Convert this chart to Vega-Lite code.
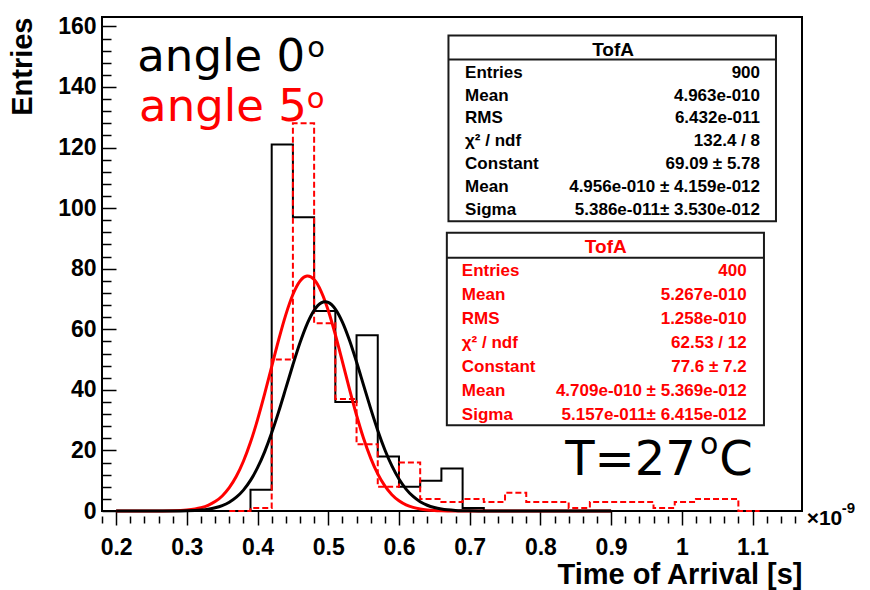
{
  "$schema": "https://vega.github.io/schema/vega-lite/v6.json",
  "width": 700,
  "height": 494,
  "autosize": {"type": "none"},
  "padding": {"left": 102, "top": 17, "right": 68, "bottom": 79},
  "background": "white",
  "config": {
    "view": {"stroke": "black", "strokeWidth": 2},
    "axis": {
      "grid": false,
      "domain": false,
      "labelFont": "Liberation Sans",
      "labelFontWeight": "bold",
      "labelFontSize": 23,
      "labelColor": "black",
      "titleFont": "Liberation Sans",
      "titleFontWeight": "bold",
      "titleFontSize": 29,
      "titleColor": "black",
      "tickColor": "black",
      "tickWidth": 1.5
    },
    "text": {"font": "Liberation Sans", "fontWeight": "bold"}
  },
  "datasets": {
    "tof_angle0": [
      {"t": 0.36, "n": 0}, {"t": 0.39, "n": 7}, {"t": 0.42, "n": 121}, {"t": 0.45, "n": 97},
      {"t": 0.48, "n": 66}, {"t": 0.51, "n": 36}, {"t": 0.54, "n": 58}, {"t": 0.57, "n": 18},
      {"t": 0.60, "n": 8}, {"t": 0.63, "n": 10}, {"t": 0.66, "n": 14}, {"t": 0.69, "n": 1},
      {"t": 0.72, "n": 0}, {"t": 0.75, "n": 0}
    ],
    "tof_angle5": [
      {"t": 0.36, "n": 0}, {"t": 0.39, "n": 1}, {"t": 0.42, "n": 50}, {"t": 0.45, "n": 128},
      {"t": 0.48, "n": 62}, {"t": 0.51, "n": 37}, {"t": 0.54, "n": 22}, {"t": 0.57, "n": 8},
      {"t": 0.60, "n": 16}, {"t": 0.63, "n": 4}, {"t": 0.66, "n": 3}, {"t": 0.69, "n": 4},
      {"t": 0.72, "n": 3}, {"t": 0.75, "n": 6}, {"t": 0.78, "n": 3}, {"t": 0.81, "n": 3},
      {"t": 0.84, "n": 1}, {"t": 0.87, "n": 3}, {"t": 0.90, "n": 3}, {"t": 0.93, "n": 3},
      {"t": 0.96, "n": 1}, {"t": 0.99, "n": 3}, {"t": 1.02, "n": 4}, {"t": 1.05, "n": 4},
      {"t": 1.08, "n": 0}, {"t": 1.11, "n": 0}
    ],
    "gaus_fits": [
      {"t": 0.20, "angle0": 0, "angle5": 0},
      {"t": 0.25, "angle0": 0.002, "angle5": 0.008},
      {"t": 0.28, "angle0": 0.023, "angle5": 0.082},
      {"t": 0.30, "angle0": 0.094, "angle5": 0.320},
      {"t": 0.32, "angle0": 0.340, "angle5": 1.073},
      {"t": 0.33, "angle0": 0.612, "angle5": 1.857},
      {"t": 0.34, "angle0": 1.065, "angle5": 3.097},
      {"t": 0.35, "angle0": 1.788, "angle5": 4.97},
      {"t": 0.36, "angle0": 2.905, "angle5": 7.685},
      {"t": 0.37, "angle0": 4.556, "angle5": 11.45},
      {"t": 0.38, "angle0": 6.903, "angle5": 16.41},
      {"t": 0.39, "angle0": 10.11, "angle5": 22.67},
      {"t": 0.40, "angle0": 14.30, "angle5": 30.16},
      {"t": 0.41, "angle0": 19.54, "angle5": 38.64},
      {"t": 0.42, "angle0": 25.80, "angle5": 47.68},
      {"t": 0.43, "angle0": 32.90, "angle5": 56.66},
      {"t": 0.44, "angle0": 40.55, "angle5": 64.85},
      {"t": 0.45, "angle0": 48.28, "angle5": 71.48},
      {"t": 0.46, "angle0": 55.53, "angle5": 75.89},
      {"t": 0.47, "angle0": 61.71, "angle5": 77.59},
      {"t": 0.4709, "angle0": 62.19, "angle5": 77.6},
      {"t": 0.48, "angle0": 66.25, "angle5": 76.40},
      {"t": 0.49, "angle0": 68.72, "angle5": 72.45},
      {"t": 0.4956, "angle0": 69.09, "angle5": 69.19},
      {"t": 0.50, "angle0": 68.86, "angle5": 66.18},
      {"t": 0.51, "angle0": 66.66, "angle5": 58.22},
      {"t": 0.52, "angle0": 62.35, "angle5": 49.32},
      {"t": 0.53, "angle0": 56.34, "angle5": 40.24},
      {"t": 0.54, "angle0": 49.19, "angle5": 31.62},
      {"t": 0.55, "angle0": 41.48, "angle5": 23.93},
      {"t": 0.56, "angle0": 33.80, "angle5": 17.45},
      {"t": 0.57, "angle0": 26.61, "angle5": 12.24},
      {"t": 0.58, "angle0": 20.24, "angle5": 8.28},
      {"t": 0.59, "angle0": 14.88, "angle5": 5.39},
      {"t": 0.60, "angle0": 10.56, "angle5": 3.38},
      {"t": 0.61, "angle0": 7.24, "angle5": 2.04},
      {"t": 0.62, "angle0": 4.80, "angle5": 1.188},
      {"t": 0.63, "angle0": 3.07, "angle5": 0.665},
      {"t": 0.64, "angle0": 1.90, "angle5": 0.359},
      {"t": 0.65, "angle0": 1.135, "angle5": 0.186},
      {"t": 0.66, "angle0": 0.655, "angle5": 0.093},
      {"t": 0.68, "angle0": 0.197, "angle5": 0.02},
      {"t": 0.70, "angle0": 0.052, "angle5": 0.004},
      {"t": 0.72, "angle0": 0.012, "angle5": 0.001},
      {"t": 0.80, "angle0": 0, "angle5": 0},
      {"t": 0.90, "angle0": 0, "angle5": 0}
    ],
    "stats_angle0": [
      {"line": 0, "key": "TofA", "value": ""},
      {"line": 1, "key": "Entries", "value": "900"},
      {"line": 2, "key": "Mean", "value": "4.963e-010"},
      {"line": 3, "key": "RMS", "value": "6.432e-011"},
      {"line": 4, "key": "χ² / ndf", "value": "132.4 / 8"},
      {"line": 5, "key": "Constant", "value": "69.09 ± 5.78"},
      {"line": 6, "key": "Mean", "value": "4.956e-010 ± 4.159e-012"},
      {"line": 7, "key": "Sigma", "value": "5.386e-011± 3.530e-012"}
    ],
    "stats_angle5": [
      {"line": 0, "key": "TofA", "value": ""},
      {"line": 1, "key": "Entries", "value": "400"},
      {"line": 2, "key": "Mean", "value": "5.267e-010"},
      {"line": 3, "key": "RMS", "value": "1.258e-010"},
      {"line": 4, "key": "χ² / ndf", "value": "62.53 / 12"},
      {"line": 5, "key": "Constant", "value": "77.6 ± 7.2"},
      {"line": 6, "key": "Mean", "value": "4.709e-010 ± 5.369e-012"},
      {"line": 7, "key": "Sigma", "value": "5.157e-011± 6.415e-012"}
    ]
  },
  "layer": [
    {
      "resolve": {"axis": {"x": "independent", "y": "independent"}},
      "layer": [
        {
          "data": {"name": "tof_angle0"},
          "mark": {"type": "line", "interpolate": "step-after", "color": "black", "strokeWidth": 2},
          "encoding": {
            "x": {"field": "t", "type": "quantitative",
                  "scale": {"domain": [0.18, 1.17], "nice": false, "zero": false},
                  "axis": {"orient": "bottom", "values": [0.2, 0.3, 0.4, 0.5, 0.6, 0.7, 0.8, 0.9, 1, 1.1],
                           "format": "~g", "tickSize": 14, "labelPadding": 11,
                           "title": "Time of Arrival [s]", "titleAnchor": "end", "titlePadding": 1}},
            "y": {"field": "n", "type": "quantitative",
                  "scale": {"domain": [0, 163.1], "nice": false, "zero": false},
                  "axis": {"orient": "left", "values": [0, 20, 40, 60, 80, 100, 120, 140, 160],
                           "ticks": false, "labelPadding": 6,
                           "title": "Entries", "titleAnchor": "end", "titlePadding": 20}}
          }
        },
        {
          "data": {"name": "tof_angle5"},
          "mark": {"type": "line", "interpolate": "step-after", "color": "#ff0000", "strokeWidth": 2, "strokeDash": [6, 3]},
          "encoding": {
            "x": {"field": "t", "type": "quantitative",
                  "scale": {"domain": [0.18, 1.17], "nice": false, "zero": false},
                  "axis": {"orient": "bottom", "offset": 5, "tickSize": 7, "labels": false, "title": null,
                           "values": [0.18, 0.22, 0.24, 0.26, 0.28, 0.32, 0.34, 0.36, 0.38, 0.42, 0.44, 0.46, 0.48,
                                      0.52, 0.54, 0.56, 0.58, 0.62, 0.64, 0.66, 0.68, 0.72, 0.74, 0.76, 0.78,
                                      0.82, 0.84, 0.86, 0.88, 0.92, 0.94, 0.96, 0.98, 1.02, 1.04, 1.06, 1.08,
                                      1.12, 1.14, 1.16]}},
            "y": {"field": "n", "type": "quantitative",
                  "scale": {"domain": [0, 163.1], "nice": false, "zero": false},
                  "axis": {"orient": "right", "offset": -700, "tickSize": 14, "labels": false, "title": null,
                           "values": [0, 20, 40, 60, 80, 100, 120, 140, 160]}}
          }
        },
        {
          "data": {"name": "gaus_fits"},
          "mark": {"type": "line", "interpolate": "monotone", "color": "#ff0000", "strokeWidth": 3},
          "encoding": {
            "x": {"field": "t", "type": "quantitative",
                  "scale": {"domain": [0.18, 1.17], "nice": false, "zero": false}, "axis": null},
            "y": {"field": "angle5", "type": "quantitative",
                  "scale": {"domain": [0, 163.1], "nice": false, "zero": false},
                  "axis": {"orient": "right", "offset": -700, "tickSize": 9, "labels": false, "title": null,
                           "values": [4, 8, 12, 16, 24, 28, 32, 36, 44, 48, 52, 56, 64, 68, 72, 76, 84, 88, 92, 96,
                                      104, 108, 112, 116, 124, 128, 132, 136, 144, 148, 152, 156]}}
          }
        },
        {
          "data": {"name": "gaus_fits"},
          "mark": {"type": "line", "interpolate": "monotone", "color": "black", "strokeWidth": 3},
          "encoding": {
            "x": {"field": "t", "type": "quantitative",
                  "scale": {"domain": [0.18, 1.17], "nice": false, "zero": false}, "axis": null},
            "y": {"field": "angle0", "type": "quantitative",
                  "scale": {"domain": [0, 163.1], "nice": false, "zero": false}, "axis": null}
          }
        },
        {
          "data": {"values": [{"caption": "angle 0"}]},
          "mark": {"type": "text", "align": "left", "baseline": "alphabetic", "font": "DejaVu Sans", "fontWeight": "normal", "fontSize": 45, "color": "black"},
          "encoding": {
            "x": {"datum": 0.2299, "type": "quantitative", "scale": {"domain": [0.18, 1.17], "nice": false, "zero": false}, "axis": null},
            "y": {"datum": 145.2, "type": "quantitative", "scale": {"domain": [0, 163.1], "nice": false, "zero": false}, "axis": null},
            "text": {"field": "caption"}
          }
        },
        {
          "data": {"values": [{"caption": "o"}]},
          "mark": {"type": "text", "align": "left", "baseline": "alphabetic", "font": "DejaVu Sans", "fontWeight": "normal", "fontSize": 29, "color": "black"},
          "encoding": {
            "x": {"datum": 0.4702, "type": "quantitative", "scale": {"domain": [0.18, 1.17], "nice": false, "zero": false}, "axis": null},
            "y": {"datum": 149.8, "type": "quantitative", "scale": {"domain": [0, 163.1], "nice": false, "zero": false}, "axis": null},
            "text": {"field": "caption"}
          }
        },
        {
          "data": {"values": [{"caption": "angle 5"}]},
          "mark": {"type": "text", "align": "left", "baseline": "alphabetic", "font": "DejaVu Sans", "fontWeight": "normal", "fontSize": 45, "color": "#ff0000"},
          "encoding": {
            "x": {"datum": 0.2325, "type": "quantitative", "scale": {"domain": [0.18, 1.17], "nice": false, "zero": false}, "axis": null},
            "y": {"datum": 128.6, "type": "quantitative", "scale": {"domain": [0, 163.1], "nice": false, "zero": false}, "axis": null},
            "text": {"field": "caption"}
          }
        },
        {
          "data": {"values": [{"caption": "o"}]},
          "mark": {"type": "text", "align": "left", "baseline": "alphabetic", "font": "DejaVu Sans", "fontWeight": "normal", "fontSize": 29, "color": "#ff0000"},
          "encoding": {
            "x": {"datum": 0.4695, "type": "quantitative", "scale": {"domain": [0.18, 1.17], "nice": false, "zero": false}, "axis": null},
            "y": {"datum": 132.9, "type": "quantitative", "scale": {"domain": [0, 163.1], "nice": false, "zero": false}, "axis": null},
            "text": {"field": "caption"}
          }
        },
        {
          "data": {"values": [{"caption": "T=27"}]},
          "mark": {"type": "text", "align": "left", "baseline": "alphabetic", "font": "DejaVu Sans", "fontWeight": "normal", "fontSize": 48, "color": "black"},
          "encoding": {
            "x": {"datum": 0.835, "type": "quantitative", "scale": {"domain": [0.18, 1.17], "nice": false, "zero": false}, "axis": null},
            "y": {"datum": 12.05, "type": "quantitative", "scale": {"domain": [0, 163.1], "nice": false, "zero": false}, "axis": null},
            "text": {"field": "caption"}
          }
        },
        {
          "data": {"values": [{"caption": "o"}]},
          "mark": {"type": "text", "align": "left", "baseline": "alphabetic", "font": "DejaVu Sans", "fontWeight": "normal", "fontSize": 30, "color": "black"},
          "encoding": {
            "x": {"datum": 1.0259, "type": "quantitative", "scale": {"domain": [0.18, 1.17], "nice": false, "zero": false}, "axis": null},
            "y": {"datum": 18.66, "type": "quantitative", "scale": {"domain": [0, 163.1], "nice": false, "zero": false}, "axis": null},
            "text": {"field": "caption"}
          }
        },
        {
          "data": {"values": [{"caption": "C"}]},
          "mark": {"type": "text", "align": "left", "baseline": "alphabetic", "font": "DejaVu Sans", "fontWeight": "normal", "fontSize": 48, "color": "black"},
          "encoding": {
            "x": {"datum": 1.0528, "type": "quantitative", "scale": {"domain": [0.18, 1.17], "nice": false, "zero": false}, "axis": null},
            "y": {"datum": 12.05, "type": "quantitative", "scale": {"domain": [0, 163.1], "nice": false, "zero": false}, "axis": null},
            "text": {"field": "caption"}
          }
        },
        {
          "data": {"values": [{"caption": "×10"}]},
          "mark": {"type": "text", "align": "left", "baseline": "alphabetic", "fontSize": 21, "color": "black"},
          "encoding": {
            "x": {"datum": 1.1766, "type": "quantitative", "scale": {"domain": [0.18, 1.17], "nice": false, "zero": false}, "axis": null},
            "y": {"datum": -4.46, "type": "quantitative", "scale": {"domain": [0, 163.1], "nice": false, "zero": false}, "axis": null},
            "text": {"field": "caption"}
          }
        },
        {
          "data": {"values": [{"caption": "-9"}]},
          "mark": {"type": "text", "align": "left", "baseline": "alphabetic", "fontSize": 15, "color": "black"},
          "encoding": {
            "x": {"datum": 1.2261, "type": "quantitative", "scale": {"domain": [0.18, 1.17], "nice": false, "zero": false}, "axis": null},
            "y": {"datum": -0.6, "type": "quantitative", "scale": {"domain": [0, 163.1], "nice": false, "zero": false}, "axis": null},
            "text": {"field": "caption"}
          }
        }
      ]
    },
    {
      "data": {"name": "stats_angle0"},
      "layer": [
        {
          "transform": [{"filter": "datum.line == 0"}],
          "mark": {"type": "rect", "fill": "white", "stroke": "#1a1a1a", "strokeWidth": 2},
          "encoding": {
            "x": {"datum": 0.67, "type": "quantitative", "scale": {"domain": [0.18, 1.17], "nice": false, "zero": false}, "axis": null},
            "x2": {"datum": 1.1332},
            "y": {"datum": -0.64, "type": "quantitative", "scale": {"domain": [20.22, -1.447], "nice": false, "zero": false}, "axis": null},
            "y2": {"datum": 7.51}
          }
        },
        {
          "transform": [{"filter": "datum.line == 0"}],
          "mark": {"type": "rule", "color": "#1a1a1a", "strokeWidth": 2},
          "encoding": {
            "x": {"datum": 0.67, "type": "quantitative", "scale": {"domain": [0.18, 1.17], "nice": false, "zero": false}, "axis": null},
            "x2": {"datum": 1.1332},
            "y": {"datum": 0.42, "type": "quantitative", "scale": {"domain": [20.22, -1.447], "nice": false, "zero": false}, "axis": null}
          }
        },
        {
          "transform": [{"filter": "datum.line == 0"}],
          "mark": {"type": "text", "align": "center", "baseline": "middle", "fontSize": 19, "color": "black"},
          "encoding": {
            "x": {"datum": 0.9028, "type": "quantitative", "scale": {"domain": [0.18, 1.17], "nice": false, "zero": false}, "axis": null},
            "y": {"field": "line", "type": "quantitative", "scale": {"domain": [20.22, -1.447], "nice": false, "zero": false}, "axis": null},
            "text": {"field": "key"}
          }
        },
        {
          "transform": [{"filter": "datum.line > 0"}],
          "mark": {"type": "text", "align": "left", "baseline": "middle", "fontSize": 17, "color": "black"},
          "encoding": {
            "x": {"datum": 0.6935, "type": "quantitative", "scale": {"domain": [0.18, 1.17], "nice": false, "zero": false}, "axis": null},
            "y": {"field": "line", "type": "quantitative", "scale": {"domain": [20.22, -1.447], "nice": false, "zero": false}, "axis": null},
            "text": {"field": "key"}
          }
        },
        {
          "transform": [{"filter": "datum.line > 0"}],
          "mark": {"type": "text", "align": "right", "baseline": "middle", "fontSize": 17, "color": "black"},
          "encoding": {
            "x": {"datum": 1.1106, "type": "quantitative", "scale": {"domain": [0.18, 1.17], "nice": false, "zero": false}, "axis": null},
            "y": {"field": "line", "type": "quantitative", "scale": {"domain": [20.22, -1.447], "nice": false, "zero": false}, "axis": null},
            "text": {"field": "value"}
          }
        }
      ]
    },
    {
      "data": {"name": "stats_angle5"},
      "layer": [
        {
          "transform": [{"filter": "datum.line == 0"}],
          "mark": {"type": "rect", "fill": "white", "stroke": "#1a1a1a", "strokeWidth": 2},
          "encoding": {
            "x": {"datum": 0.6677, "type": "quantitative", "scale": {"domain": [0.18, 1.17], "nice": false, "zero": false}, "axis": null},
            "x2": {"datum": 1.1162},
            "y": {"datum": -0.57, "type": "quantitative", "scale": {"domain": [11.02, -9.5625], "nice": false, "zero": false}, "axis": null},
            "y2": {"datum": 7.45}
          }
        },
        {
          "transform": [{"filter": "datum.line == 0"}],
          "mark": {"type": "rule", "color": "#1a1a1a", "strokeWidth": 2},
          "encoding": {
            "x": {"datum": 0.6677, "type": "quantitative", "scale": {"domain": [0.18, 1.17], "nice": false, "zero": false}, "axis": null},
            "x2": {"datum": 1.1162},
            "y": {"datum": 0.47, "type": "quantitative", "scale": {"domain": [11.02, -9.5625], "nice": false, "zero": false}, "axis": null}
          }
        },
        {
          "transform": [{"filter": "datum.line == 0"}],
          "mark": {"type": "text", "align": "center", "baseline": "middle", "fontSize": 19, "color": "#ff0000"},
          "encoding": {
            "x": {"datum": 0.8925, "type": "quantitative", "scale": {"domain": [0.18, 1.17], "nice": false, "zero": false}, "axis": null},
            "y": {"field": "line", "type": "quantitative", "scale": {"domain": [11.02, -9.5625], "nice": false, "zero": false}, "axis": null},
            "text": {"field": "key"}
          }
        },
        {
          "transform": [{"filter": "datum.line > 0"}],
          "mark": {"type": "text", "align": "left", "baseline": "middle", "fontSize": 17, "color": "#ff0000"},
          "encoding": {
            "x": {"datum": 0.6889, "type": "quantitative", "scale": {"domain": [0.18, 1.17], "nice": false, "zero": false}, "axis": null},
            "y": {"field": "line", "type": "quantitative", "scale": {"domain": [11.02, -9.5625], "nice": false, "zero": false}, "axis": null},
            "text": {"field": "key"}
          }
        },
        {
          "transform": [{"filter": "datum.line > 0"}],
          "mark": {"type": "text", "align": "right", "baseline": "middle", "fontSize": 17, "color": "#ff0000"},
          "encoding": {
            "x": {"datum": 1.0918, "type": "quantitative", "scale": {"domain": [0.18, 1.17], "nice": false, "zero": false}, "axis": null},
            "y": {"field": "line", "type": "quantitative", "scale": {"domain": [11.02, -9.5625], "nice": false, "zero": false}, "axis": null},
            "text": {"field": "value"}
          }
        }
      ]
    }
  ],
  "resolve": {"scale": {"y": "independent"}, "axis": {"x": "independent", "y": "independent"}}
}
